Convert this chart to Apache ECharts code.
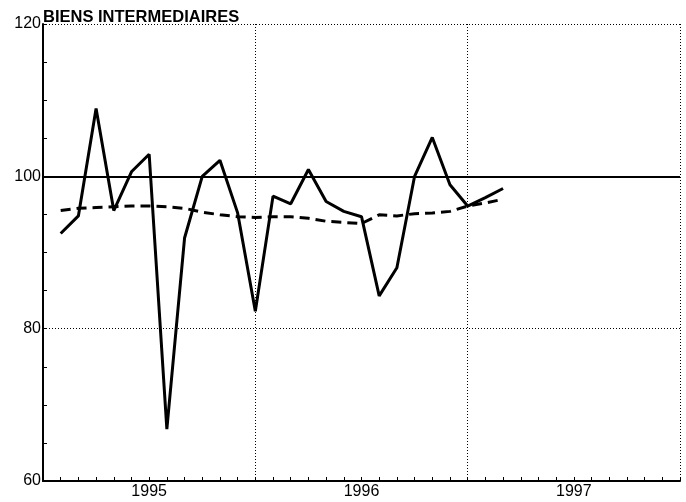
<!DOCTYPE html>
<html>
<head>
<meta charset="utf-8">
<script src="https://cdn.jsdelivr.net/npm/echarts@6/dist/echarts.min.js"></script>
<style>
html,body{margin:0;padding:0;background:#fff;}
#c{width:686px;height:502px;}
</style>
</head>
<body>
<div id="c"></div>
<script>
var title = 'BIENS INTERMEDIAIRES';
var yearLabels = ['1995', '1996', '1997'];
var yTickLabels = [60, 80, 100, 120];
// monthly values, Jan 1995 onward
var indice = [92.5, 94.8, 108.9, 95.5, 100.6, 102.9, 66.8, 91.9, 100.0, 102.1, 95.2, 82.3,
              97.4, 96.4, 100.9, 96.7, 95.4, 94.7, 84.3, 88.0, 100.0, 105.1, 98.9, 96.1,
              97.2, 98.4];
var tendance = [95.5, 95.8, 95.9, 96.0, 96.1, 96.1, 96.0, 95.8, 95.3, 94.95, 94.7, 94.6,
                94.7, 94.7, 94.5, 94.1, 93.95, 93.8, 94.95, 94.8, 95.1, 95.2, 95.4, 96.1,
                96.5, 97.0];

function toPairs(arr) { return arr.map(function (v, i) { return [i + 1, v]; }); }

var chart = echarts.init(document.getElementById('c'), null, {renderer: 'canvas'});
var FONT = 'Liberation Sans, Arial, sans-serif';
var dotted = {color: '#000', width: 1, type: [1, 2]};

chart.setOption({
  animation: false,
  backgroundColor: '#fff',
  title: {
    text: title, left: 43, top: 9, padding: 0,
    textStyle: {fontFamily: FONT, fontSize: 16.5, fontWeight: 'bold', color: '#000'}
  },
  grid: {left: 43, right: 6, top: 24, bottom: 21, containLabel: false},
  xAxis: {
    type: 'value', min: 0, max: 36, interval: 1,
    axisLine: {show: true, lineStyle: {color: '#000', width: 2}},
    axisTick: {show: true, inside: true, length: 4, lineStyle: {color: '#000', width: 1}},
    axisLabel: {
      show: true, margin: 3, color: '#000', fontFamily: FONT, fontSize: 16,
      formatter: function (v) {
        if ((v - 6) % 12 === 0) return yearLabels[(v - 6) / 12] || '';
        return '';
      }
    },
    splitLine: {show: false}
  },
  yAxis: {
    type: 'value', min: 60, max: 120, interval: 5,
    axisLine: {show: true, lineStyle: {color: '#000', width: 2}},
    axisTick: {show: true, inside: true, length: 4, lineStyle: {color: '#000', width: 1}},
    axisLabel: {
      show: true, margin: 2, color: '#000', fontFamily: FONT, fontSize: 16,
      formatter: function (v) { return yTickLabels.indexOf(v) >= 0 ? String(v) : ''; }
    },
    splitLine: {show: false}
  },
  series: [
    {
      type: 'line', data: toPairs(tendance), symbol: 'none', z: 3,
      lineStyle: {color: '#000', width: 3, type: [10, 6]},
      markLine: {
        silent: true, symbol: 'none', label: {show: false},
        data: [
          {yAxis: 100, lineStyle: {color: '#000', width: 2, type: 'solid'}},
          {yAxis: 80, lineStyle: dotted},
          {yAxis: 120, lineStyle: dotted},
          {xAxis: 12, lineStyle: dotted},
          {xAxis: 24, lineStyle: dotted},
          {xAxis: 36, lineStyle: dotted}
        ]
      }
    },
    {
      type: 'line', data: toPairs(indice), symbol: 'none', z: 4,
      lineStyle: {color: '#000', width: 3, type: 'solid'}
    }
  ]
});
</script>
</body>
</html>
